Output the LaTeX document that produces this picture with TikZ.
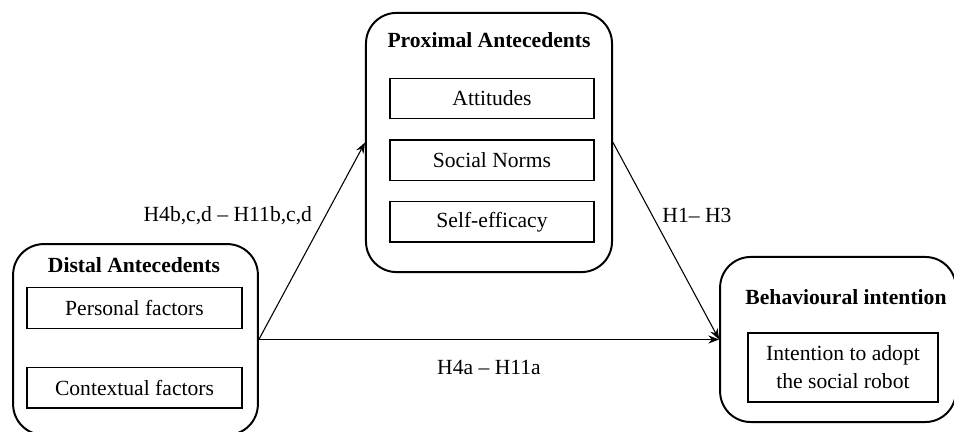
\documentclass[tikz,border=0pt]{standalone}
\usepackage{fontspec}
\setmainfont{Liberation Serif}
\usetikzlibrary{positioning, arrows.meta}

\begin{document}
\begin{tikzpicture}[x=0.5556pt, y=-0.5556pt, >={Stealth[length=6pt, width=4.5pt]}, node distance=11pt,
      group/.style={draw, line width=1.1pt, rounded corners=17pt},
      head/.style={font=\bfseries\fontsize{12}{14}\selectfont},
      factor/.style={draw, line width=0.8pt, align=center, font=\fontsize{12}{15.5}\selectfont, minimum height=22.5pt},
      hyp/.style={font=\fontsize{12}{14}\selectfont}]

    \useasboundingbox (0,0) rectangle (954,432);

    % outer groups
    \node[group, minimum width=136pt, minimum height=106pt] (distal) at (135.5,339.5) {};
    \node[group, minimum width=136.7pt, minimum height=144pt] (prox) at (489,142.5) {};
    \node[group, minimum width=131pt, minimum height=91.7pt] (beh) at (838,339.5) {};

    % titles
    \node[head] (disthead) at (134,265) {Distal Antecedents};
    \node[head] (proxhead) at (489,40) {Proximal Antecedents};
    \node[head] (behhead) at (846,297) {Behavioural intention};

    % factors
    \node[factor, minimum width=119.5pt] (personal) at (134.5,308) {Personal factors};
    \node[factor, minimum width=119.5pt, below=21pt of personal] (context) {Contextual factors};
    \node[factor, minimum width=113.3pt] (att) at (492,98.5) {Attitudes};
    \node[factor, minimum width=113.3pt, below=of att] (norms) {Social Norms};
    \node[factor, minimum width=113.3pt, below=of norms] (self) {Self-efficacy};
    \node[factor, minimum width=105.6pt, minimum height=38.3pt] (intent) at (843,367.5) {Intention to adopt\\the social robot};

    \draw[->, line width=0.6pt] (distal.east) -- node[hyp, left, pos=0.63, xshift=-4pt] {H4b,c,d – H11b,c,d} (prox.west);
    \draw[->, line width=0.6pt] (prox.east) -- node[hyp, right, pos=0.37, xshift=2pt] {H1– H3} (beh.west);
    \draw[->, line width=0.6pt] (distal.east) -- node[hyp, below=8pt] {H4a – H11a} (beh.west);
  \end{tikzpicture}
\end{document}
